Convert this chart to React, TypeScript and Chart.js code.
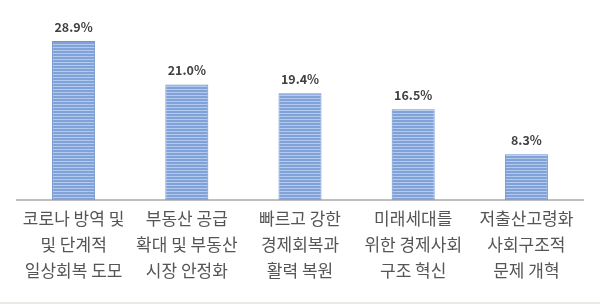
import React, { useEffect, useRef } from "react";
import { Chart, registerables } from "chart.js";

Chart.register(...registerables);

const categories: string[][] = [
  ["코로나 방역 및", "및 단계적", "일상회복 도모"],
  ["부동산 공급", "확대 및 부동산", "시장 안정화"],
  ["빠르고 강한", "경제회복과", "활력 복원"],
  ["미래세대를", "위한 경제사회", "구조 혁신"],
  ["저출산고령화", "사회구조적", "문제 개혁"],
];
const values: number[] = [28.9, 21.0, 19.4, 16.5, 8.3];
const valueLabels: string[] = ["28.9%", "21.0%", "19.4%", "16.5%", "8.3%"];

function makePattern(): CanvasPattern | string {
  const c = document.createElement("canvas");
  c.width = 4;
  c.height = 3;
  const ctx = c.getContext("2d");
  if (!ctx) return "#7FA2D8";
  ctx.fillStyle = "#80A2D8";
  ctx.fillRect(0, 0, 4, 3);
  ctx.fillStyle = "#B4CAEC";
  ctx.fillRect(0, 2, 4, 1);
  return ctx.createPattern(c, "repeat") || "#7FA2D8";
}

const valueLabelPlugin = {
  id: "valueLabels",
  afterDatasetsDraw(chart: any) {
    const ctx = chart.ctx;
    const meta = chart.getDatasetMeta(0);
    ctx.save();
    ctx.font = "bold 12.5px 'Noto Sans CJK KR', 'Noto Sans', sans-serif";
    ctx.fillStyle = "#404040";
    ctx.textAlign = "center";
    ctx.textBaseline = "alphabetic";
    meta.data.forEach((bar: any, i: number) => {
      ctx.fillText(valueLabels[i], bar.x, bar.y - 9);
    });
    ctx.restore();
  },
};

export default function App() {
  const ref = useRef<HTMLCanvasElement | null>(null);
  useEffect(() => {
    document.body.style.margin = "0";
    if (!ref.current) return;
    const chart = new Chart(ref.current, {
      type: "bar",
      data: {
        labels: categories,
        datasets: [
          {
            data: values,
            backgroundColor: makePattern() as any,
            borderColor: "#6E93CC",
            borderWidth: { left: 1, right: 1, top: 1, bottom: 0 },
            categoryPercentage: 1,
            barPercentage: 0.38,
          },
        ],
      },
      options: {
        animation: false,
        responsive: false,
        maintainAspectRatio: false,
        layout: { padding: { left: 17, right: 17, top: 35, bottom: 16 } },
        plugins: { legend: { display: false }, tooltip: { enabled: false } },
        scales: {
          x: {
            grid: { display: false, drawTicks: false },
            border: { display: true, color: "#BFBFBF", width: 2 },
            ticks: {
              padding: 6,
              color: "#555555",
              maxRotation: 0,
              autoSkip: false,
              font: { family: "'Noto Sans CJK KR', 'Noto Sans', sans-serif", size: 17, lineHeight: 1.53 },
            },
          },
          y: {
            display: false,
            min: 0,
            max: 30,
          },
        },
      },
      plugins: [valueLabelPlugin],
    });
    return () => chart.destroy();
  }, []);
  return (
    <div style={{ position: "fixed", left: 0, top: 0, width: 600, height: 306, background: "#fff" }}>
      <canvas ref={ref} width={600} height={306} style={{ width: 600, height: 306 }} />
      <div style={{ position: "absolute", left: 0, top: 302, width: 600, height: 2, background: "#ECE9E4" }} />
    </div>
  );
}
